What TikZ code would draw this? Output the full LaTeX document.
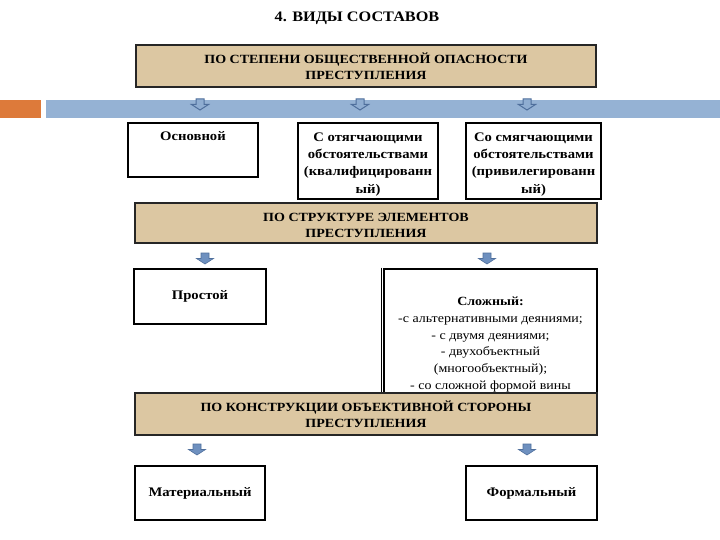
\documentclass[tikz,border=0pt]{standalone}
\usepackage{fontspec}
\setmainfont{Liberation Serif}[FakeStretch=1.12]
\definecolor{tanfill}{HTML}{DCC7A2}
\definecolor{barblue}{HTML}{95B2D4}
\definecolor{barorange}{HTML}{DD7A3A}
\definecolor{arrfill}{HTML}{6E90BF}
\definecolor{arrline}{HTML}{4F6F9C}
\tikzset{
  tanbox/.style={draw=black!85, line width=1.1pt, fill=tanfill, inner sep=0pt},
  wbox/.style={draw=black, line width=2.6pt, fill=white, inner sep=0pt},
  headtxt/.style={font=\bfseries\fontsize{12.5}{16}\selectfont, align=center, inner sep=0pt},
  boxtxt/.style={font=\bfseries\fontsize{13.1}{17.4}\selectfont, align=center, inner sep=0pt},
  plaintxt/.style={font=\fontsize{12.5}{16.8}\selectfont, align=center, inner sep=0pt},
  darrow/.pic={
    \fill[arrfill, draw=arrline, line width=0.6pt] (-4,0) -- (4,0) -- (4,5.5) -- (8.5,5.5) -- (0,11) -- (-8.5,5.5) -- (-4,5.5) -- cycle;
  },
  larrow/.pic={
    \fill[barblue!85!arrfill, draw=arrline, line width=1pt] (-4,0) -- (4,0) -- (4,5.5) -- (8.5,5.5) -- (0,11) -- (-8.5,5.5) -- (-4,5.5) -- cycle;
  }
}
\begin{document}
\begin{tikzpicture}[x=1pt,y=-1pt]
\useasboundingbox (0,0) rectangle (720,540);
\fill[white] (0,0) rectangle (720,540);
% title
\node[font=\bfseries\fontsize{14.5}{16}\selectfont, inner sep=0pt] (title) at (357,18) {4. ВИДЫ СОСТАВОВ};
% first heading
\node[tanbox, minimum width=460pt, minimum height=42pt] (h1) at (366,66) {};
\node[headtxt] (h1t) at (h1.center) {ПО СТЕПЕНИ ОБЩЕСТВЕННОЙ ОПАСНОСТИ\\ПРЕСТУПЛЕНИЯ};
% bar
\fill[barorange] (0,100) rectangle (41,118);
\fill[barblue] (46,100) rectangle (720,118);
\pic at (200,99) {larrow};
\pic at (360,99) {larrow};
\pic at (527,99) {larrow};
% row 1 boxes
\node[wbox, minimum width=130pt, minimum height=54pt] (b1) at (193,150) {};
\node[boxtxt, anchor=north] (b1t) at ([yshift=-10pt]b1.north) {Основной};
\node[wbox, minimum width=140pt, minimum height=76pt] (b2) at (368,161) {};
\node[boxtxt, anchor=north] (b2t) at ([yshift=-10.5pt]b2.north) {С отягчающими\\обстоятельствами\\(квалифицированн\\ый)};
\node[wbox, minimum width=135pt, minimum height=76pt] (b3) at (533.5,161) {};
\node[boxtxt, anchor=north] (b3t) at ([yshift=-10.5pt]b3.north) {Со смягчающими\\обстоятельствами\\(привилегированн\\ый)};
% second heading
\node[tanbox, minimum width=462pt, minimum height=40pt] (h2) at (366,223) {};
\node[headtxt] (h2t) at ([yshift=-2pt]h2.center) {ПО СТРУКТУРЕ ЭЛЕМЕНТОВ\\ПРЕСТУПЛЕНИЯ};
\pic at (205,253) {darrow};
\pic at (487,253) {darrow};
% row 2 boxes
\node[wbox, minimum width=132pt, minimum height=55pt] (b4) at (200,296.5) {};
\node[boxtxt] (b4t) at (b4.center) {Простой};
\node[draw=black, line width=2.6pt, fill=white, minimum width=213pt, minimum height=141pt, inner sep=0pt] (b5) at (490.5,339.5) {};
\draw[line width=0.8pt] ([xshift=-1.5pt]b5.north west) -- ([xshift=-1.5pt]b5.south west);
\node[plaintxt, anchor=north] (b5t) at ([yshift=-29pt]b5.north) {\textbf{Сложный:}\\-с альтернативными деяниями;\\- с двумя деяниями;\\- двухобъектный\\(многообъектный);\\- со сложной формой вины};
% third heading
\node[tanbox, minimum width=462pt, minimum height=42pt] (h3) at (366,414) {};
\node[headtxt] (h3t) at (h3.center) {ПО КОНСТРУКЦИИ ОБЪЕКТИВНОЙ СТОРОНЫ\\ПРЕСТУПЛЕНИЯ};
\pic at (197,444) {darrow};
\pic at (527,444) {darrow};
% row 3 boxes
\node[wbox, minimum width=130pt, minimum height=54pt] (b6) at (200,493) {};
\node[boxtxt] (b6t) at (b6.center) {Материальный};
\node[wbox, minimum width=131pt, minimum height=54pt] (b7) at (531.5,493) {};
\node[boxtxt] (b7t) at (b7.center) {Формальный};
\end{tikzpicture}
\end{document}
